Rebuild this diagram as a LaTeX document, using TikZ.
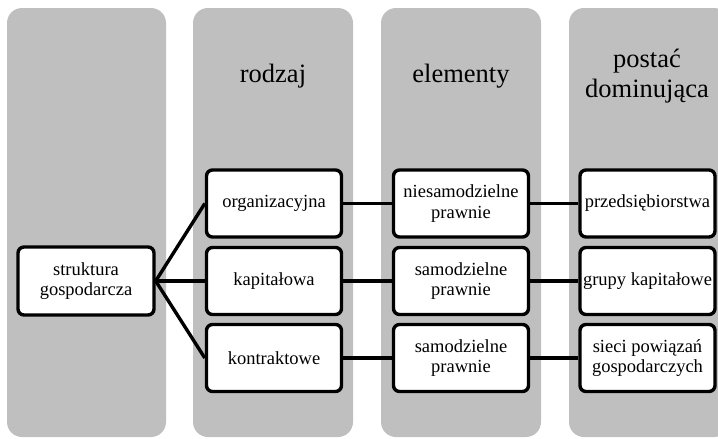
\documentclass[tikz,border=0pt]{standalone}
\usepackage{fontspec}
\setmainfont{Liberation Serif}
\definecolor{colgray}{HTML}{BFBFBF}
\begin{document}
\begin{tikzpicture}[x=1pt,y=-1pt,
  column/.style={fill=colgray, draw=none, rounded corners=15pt},
  box/.style={draw=black, line width=3.4pt, fill=white, rounded corners=6pt,
    minimum width=135pt, minimum height=67pt, inner sep=2pt, align=center,
    font=\fontsize{18.5}{20.5}\selectfont},
  head/.style={align=center, font=\fontsize{26.5}{30}\selectfont},
  conn/.style={draw=black, line width=3.4pt}]
\useasboundingbox (0,0) rectangle (718,439);
\clip (0,0) rectangle (718,439);
% columns
\fill[column] (7,8) rectangle (166,437);
\fill[column] (193,8) rectangle (353,437);
\fill[column] (381,8) rectangle (541,437);
\fill[column] (569,8) rectangle (729,437);
% headers
\node[head] (h2) at (273,76) {rodzaj};
\node[head] (h3) at (461,76) {elementy};
\node[head] (h4) at (647,76) {postać\\dominująca};
% boxes
\node[box, minimum width=136pt, minimum height=68pt] (s) at (86,281) {struktura\\gospodarcza};
\node[box] (o) at (274,203.5) {organizacyjna};
\node[box] (k) at (274,281) {kapitałowa};
\node[box] (t) at (274,358) {kontraktowe};
\node[box] (e1) at (461,203.5) {niesamodzielne\\prawnie};
\node[box] (e2) at (461,281) {samodzielne\\prawnie};
\node[box] (e3) at (461,358) {samodzielne\\prawnie};
\node[box] (p1) at (647.5,203.5) {przedsiębiorstwa};
\node[box] (p2) at (647.5,281) {grupy kapitałowe};
\node[box] (p3) at (647.5,358) {sieci powiązań\\gospodarczych};
% connectors
\draw[conn] (s.east) -- (o.west);
\draw[conn] (s.east) -- (k.west);
\draw[conn] (s.east) -- (t.west);
\draw[conn] (o.east) -- (e1.west);
\draw[conn] (k.east) -- (e2.west);
\draw[conn] (t.east) -- (e3.west);
\draw[conn] (e1.east) -- (p1.west);
\draw[conn] (e2.east) -- (p2.west);
\draw[conn] (e3.east) -- (p3.west);
\end{tikzpicture}
\end{document}
